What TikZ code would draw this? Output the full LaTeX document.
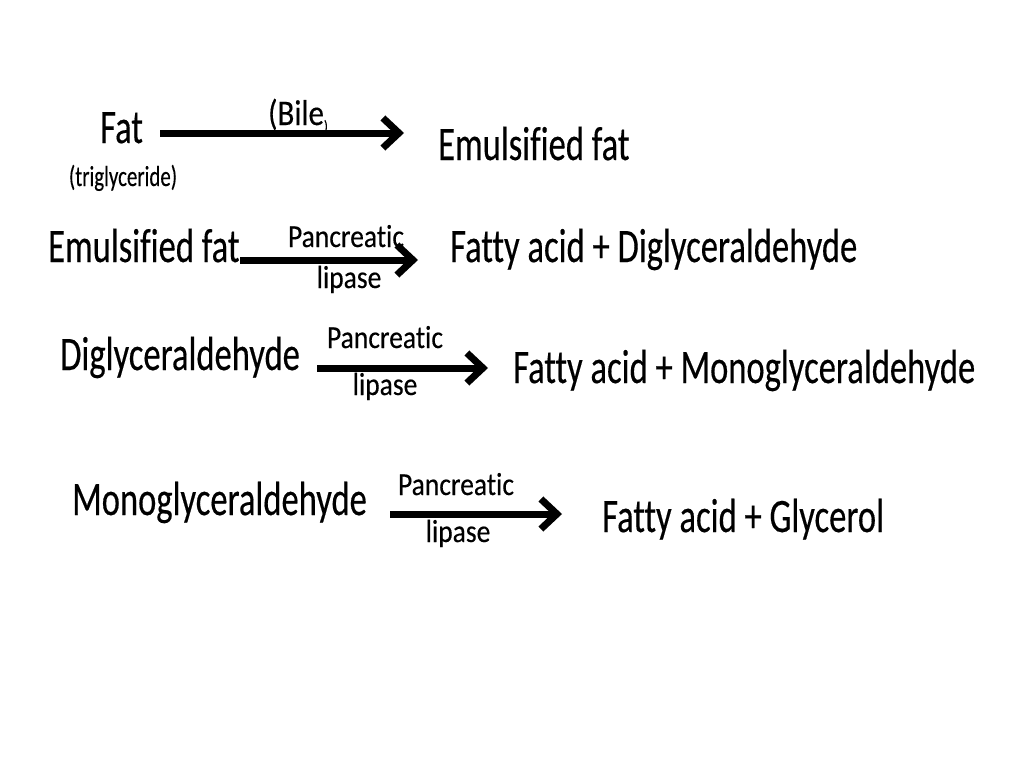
\documentclass[tikz,border=0pt]{standalone}
\usepackage{fontspec}
\setmainfont{Carlito}[FakeStretch=0.72,FakeBold=0.3,Ligatures=NoCommon]
\newfontfamily\labelfont{Carlito}[FakeStretch=0.86,FakeBold=0.3,Ligatures=NoCommon]
\usetikzlibrary{arrows.meta}

\begin{document}
\begin{tikzpicture}[x=1pt,y=-1pt,
    chem/.style={anchor=base west,inner sep=0pt,font=\fontsize{48}{52}\selectfont},
    enzyme/.style={anchor=base,inner sep=0pt,font=\labelfont\fontsize{32}{36}\selectfont},
    note/.style={anchor=base,inner sep=0pt,font=\fontsize{29}{32}\selectfont},
    react/.style={line width=7pt,-{Straight Barb[length=16pt,width=30pt]}}]
  \useasboundingbox (0,0) rectangle (1024,768);

  \node[chem] (fat) at (100,143) {Fat};
  \node[note] (trigly) at (123,186) {(triglyceride)};
  \node[enzyme,font=\labelfont\fontsize{36}{40}\selectfont] (bile) at (298,125) {(Bile\raisebox{-6pt}{\fontsize{15}{15}\selectfont)}};
  \node[chem] (emulA) at (438,160) {Emulsified fat};
  \coordinate (a1) at (160,133);
  \coordinate (b1) at (404,133);
  \draw[react] (a1) -- (b1);

  \node[chem] (emulB) at (48,262) {Emulsified fat};
  \node[enzyme] (pancA) at (346,247) {Pancreatic};
  \node[enzyme] (lipA) at (349,288) {lipase};
  \node[chem] (diglyA) at (450,262) {Fatty acid + Diglyceraldehyde};
  \coordinate (a2) at (240,260);
  \coordinate (b2) at (418,260);
  \draw[react] (a2) -- (b2);

  \node[chem] (diglyB) at (60,370) {Diglyceraldehyde};
  \node[enzyme] (pancB) at (385,348) {Pancreatic};
  \node[enzyme] (lipB) at (385,395) {lipase};
  \node[chem] (monoA) at (513,383) {Fatty acid + Monoglyceraldehyde};
  \coordinate (a3) at (317,368);
  \coordinate (b3) at (488,368);
  \draw[react] (a3) -- (b3);

  \node[chem] (monoB) at (72,515) {Monoglyceraldehyde};
  \node[enzyme] (pancC) at (456,495) {Pancreatic};
  \node[enzyme] (lipC) at (458,542) {lipase};
  \node[chem] (glyc) at (602,532) {Fatty acid + Glycerol};
  \coordinate (a4) at (390,514);
  \coordinate (b4) at (562,514);
  \draw[react] (a4) -- (b4);
\end{tikzpicture}
\end{document}
